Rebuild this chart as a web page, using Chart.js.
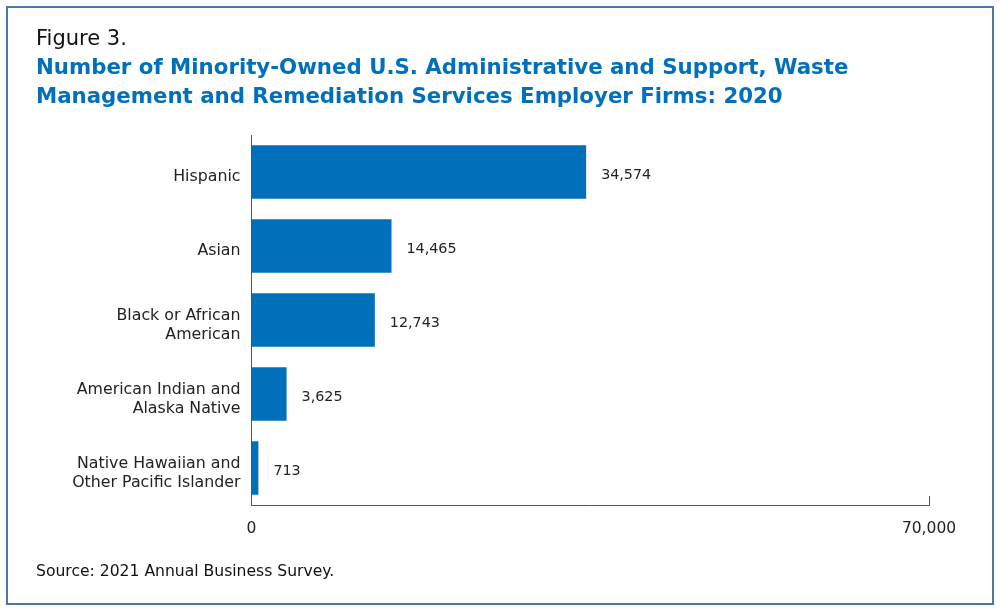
<!DOCTYPE html>
<html>
<head>
<meta charset="utf-8">
<script src="https://cdn.jsdelivr.net/npm/chart.js@4.4.1/dist/chart.umd.min.js"></script>
<style>
  html,body{margin:0;padding:0;background:#fff;}
  #wrap{position:relative;width:1000px;height:611px;}
  canvas{display:block;}
</style>
</head>
<body>
<div id="wrap"><canvas id="c" width="1000" height="611"></canvas></div>
<script>
const categories = [
  ['Hispanic'],
  ['Asian'],
  ['Black or African', 'American'],
  ['American Indian and', 'Alaska Native'],
  ['Native Hawaiian and', 'Other Pacific Islander']
];
const firmCounts = [34574, 14465, 12743, 3625, 713];
const xTickValues = [0, 70000];
const figureLabel = 'Figure 3.';
const titleLines = [
  'Number of Minority-Owned U.S. Administrative and Support, Waste',
  'Management and Remediation Services Employer Firms: 2020'
];
const sourceText = 'Source: 2021 Annual Business Survey.';

const FONT = 'DejaVu Sans';
const BLUE = '#0070bb';

const textPlugin = {
  id: 'texts',
  afterDraw(chart) {
    const ctx = chart.ctx;
    ctx.save();
    ctx.strokeStyle = '#4a78a8';
    ctx.lineWidth = 2;
    ctx.strokeRect(7, 7, 986, 597);
    ctx.textAlign = 'left';
    ctx.textBaseline = 'middle';
    ctx.fillStyle = '#111';
    ctx.font = '21px "' + FONT + '"';
    ctx.fillText(figureLabel, 36, 40);
    ctx.fillStyle = BLUE;
    ctx.font = 'bold 21.3px "' + FONT + '"';
    ctx.fillText(titleLines[0], 36, 68);
    ctx.fillText(titleLines[1], 36, 97);
    ctx.fillStyle = '#111';
    ctx.font = '15.6px "' + FONT + '"';
    ctx.fillText(sourceText, 36, 572);
    const xs = chart.scales.x;
    const a = chart.chartArea;
    const xr = xs.getPixelForValue(xTickValues[xTickValues.length - 1]);
    ctx.strokeStyle = '#555';
    ctx.lineWidth = 1;
    ctx.beginPath();
    ctx.moveTo(Math.round(xr) + 0.5, a.bottom);
    ctx.lineTo(Math.round(xr) + 0.5, a.bottom - 9);
    ctx.stroke();
    ctx.fillStyle = '#222';
    ctx.font = '14.3px "' + FONT + '"';
    const meta = chart.getDatasetMeta(0);
    meta.data.forEach((bar, i) => {
      ctx.fillText(firmCounts[i].toLocaleString('en-US'), bar.x + 15, bar.y + 3);
    });
    ctx.restore();
  }
};

new Chart(document.getElementById('c'), {
  type: 'bar',
  data: {
    labels: categories,
    datasets: [{
      data: firmCounts,
      backgroundColor: BLUE,
      borderWidth: 0,
      categoryPercentage: 1,
      barPercentage: 0.72
    }]
  },
  options: {
    indexAxis: 'y',
    responsive: false,
    animation: false,
    devicePixelRatio: 1,
    layout: { padding: { top: 135, left: 0, right: 71, bottom: 0 } },
    plugins: { legend: { display: false }, tooltip: { enabled: false } },
    scales: {
      x: {
        min: 0, max: 70000,
        afterBuildTicks(s) { s.ticks = xTickValues.map(v => ({ value: v })); },
        afterFit(s) { s.height = 611 - 505; },
        grid: { display: false },
        border: { display: true, color: '#555', width: 1 },
        ticks: {
          padding: 7,
          color: '#222',
          font: { family: FONT, size: 15.5 },
          maxRotation: 0,
          autoSkip: false,
          callback: v => v.toLocaleString('en-US')
        }
      },
      y: {
        afterFit(s) { s.width = 251.5; },
        grid: { display: false },
        border: { display: true, color: '#555', width: 1 },
        ticks: {
          padding: 3,
          labelOffset: 5,
          color: '#222',
          font: { family: FONT, size: 15.8, lineHeight: 1.2 },
          autoSkip: false
        }
      }
    }
  },
  plugins: [textPlugin]
});
</script>
</body>
</html>
